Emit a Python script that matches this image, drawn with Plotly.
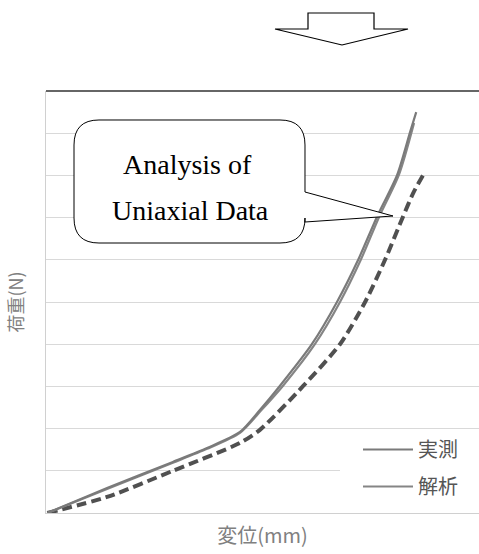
import plotly.graph_objects as go

# ---- data (displacement in arbitrary units, load in arbitrary units) ----
meas1_x = [0.03, 1.41, 2.93, 3.72, 4.48, 4.94, 5.40, 6.14, 6.72, 7.21, 7.64, 8.11, 8.41, 8.55]
meas1_y = [0.00, 0.59, 1.21, 1.54, 1.92, 2.44, 3.01, 4.00, 5.00, 6.00, 7.01, 8.01, 9.03, 9.50]

meas2_x = [0.03, 1.41, 2.93, 3.72, 4.48, 4.96, 5.47, 6.21, 6.79, 7.27, 7.69, 8.15, 8.50]
meas2_y = [0.00, 0.57, 1.19, 1.52, 1.90, 2.42, 3.01, 4.00, 5.00, 6.00, 7.01, 8.01, 9.24]

anal_x = [0.03, 1.41, 2.93, 4.48, 4.94, 5.94, 6.79, 7.37, 7.83, 8.24, 8.48, 8.71]
anal_y = [0.00, 0.38, 1.00, 1.66, 1.97, 3.01, 4.00, 5.00, 6.00, 7.01, 7.58, 8.01]

legend_names = ["実測", "解析"]
x_title = "変位(mm)"
y_title = "荷重(N)"
callout_lines = ["Analysis of", "Uniaxial Data"]

W, H = 479, 554
L, R, T, B = 46, 479, 91, 513

def px(x):
    return (x - L) / (R - L)

def py(y):
    return (B - y) / (B - T)

fig = go.Figure()
fig.add_trace(go.Scatter(x=anal_x, y=anal_y, mode="lines", showlegend=False,
                         name="解析(dashed)",
                         line=dict(color="#505050", width=4, dash="10px,5px",
                                   shape="spline", smoothing=0.7)))
fig.add_trace(go.Scatter(x=meas2_x, y=meas2_y, mode="lines", name=legend_names[1],
                         legendgroup="b", legendrank=2,
                         line=dict(color="#858585", width=2.2, shape="spline", smoothing=0.7)))
fig.add_trace(go.Scatter(x=meas1_x, y=meas1_y, mode="lines", name=legend_names[0],
                         legendgroup="a", legendrank=1,
                         line=dict(color="#7a7a7a", width=2.2, shape="spline", smoothing=0.7)))

shapes = []
# top border line
shapes.append(dict(type="line", xref="paper", yref="paper", x0=0, x1=1, y0=1, y1=1,
                   line=dict(color="#333333", width=1.5)))
# white patch behind legend (hides gridline there)
shapes.append(dict(type="rect", xref="paper", yref="paper", x0=px(340), x1=1,
                   y0=py(505), y1=py(436), fillcolor="white", line=dict(width=0),
                   layer="above"))

# callout with tail
bl, br, bt, bb, r = 74, 305, 120, 243, 25
tail = [(305, 192), (393, 216), (305, 222)]
def P(x, y):
    return f"{px(x):.5f},{py(y):.5f}"
path = (f"M {P(bl+r, bt)} L {P(br-r, bt)} Q {P(br, bt)} {P(br, bt+r)} "
        f"L {P(*tail[0])} L {P(*tail[1])} L {P(*tail[2])} "
        f"L {P(br, bb-r)} Q {P(br, bb)} {P(br-r, bb)} L {P(bl+r, bb)} "
        f"Q {P(bl, bb)} {P(bl, bb-r)} L {P(bl, bt+r)} Q {P(bl, bt)} {P(bl+r, bt)} Z")
shapes.append(dict(type="path", xref="paper", yref="paper", path=path,
                   fillcolor="white", line=dict(color="black", width=1)))

# block arrow at top
arrow_pts = [(308, 13), (374, 13), (374, 29), (408, 29), (342, 45), (275, 29), (308, 29)]
apath = "M " + " L ".join(P(x, y) for x, y in arrow_pts) + " Z"
shapes.append(dict(type="path", xref="paper", yref="paper", path=apath,
                   fillcolor="white", line=dict(color="black", width=1.2)))

annotations = []
for txt, (cx, cy) in zip(callout_lines, [(187, 164), (190, 210)]):
    annotations.append(dict(text=txt, xref="paper", yref="paper", x=px(cx), y=py(cy),
                            xanchor="center", yanchor="middle", showarrow=False,
                            font=dict(family="Liberation Serif, serif", size=28, color="black")))

fig.update_layout(
    width=W, height=H,
    margin=dict(l=L, r=W - R, t=T, b=H - B, pad=0),
    paper_bgcolor="white", plot_bgcolor="white",
    font=dict(family="Noto Sans CJK JP, sans-serif", color="#777777"),
    showlegend=True,
    legend=dict(x=px(358), y=py(430), xanchor="left", yanchor="top",
                bgcolor="rgba(255,255,255,0)", tracegroupgap=8,
                font=dict(size=20, color="#555555"), itemwidth=50),
    shapes=shapes, annotations=annotations,
)
fig.update_xaxes(range=[0, 10], showgrid=False, zeroline=False, showticklabels=False,
                 ticks="", showline=True, linecolor="#d0d0d0", linewidth=1,
                 title=dict(text=x_title, font=dict(size=20, color="#808080"), standoff=15))
fig.update_yaxes(range=[0, 10], dtick=1, showgrid=True, gridcolor="#d9d9d9", gridwidth=1,
                 zeroline=False, showticklabels=False, ticks="", showline=True,
                 linecolor="#d0d0d0", linewidth=1,
                 title=dict(text=y_title, font=dict(size=18, color="#808080"), standoff=16))

fig.write_html("out.html", config={"displayModeBar": False},
               post_script="document.body.style.margin='0';document.body.style.overflow='hidden';")
